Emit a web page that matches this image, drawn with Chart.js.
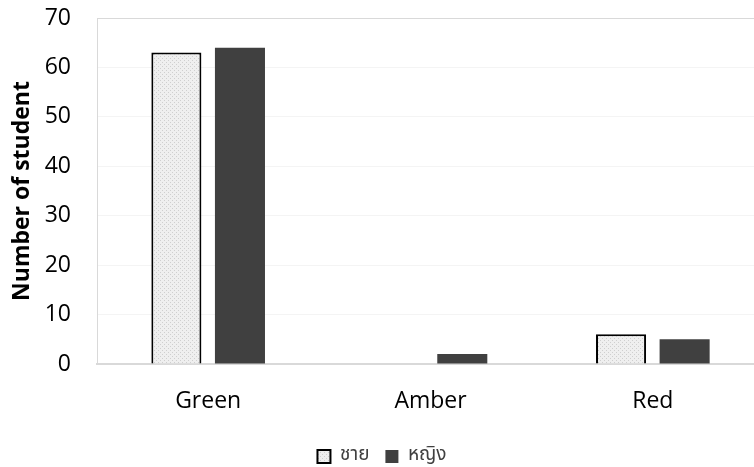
<!DOCTYPE html>
<html>
<head>
<meta charset="utf-8">
<script src="https://cdn.jsdelivr.net/npm/chart.js@4"></script>
<style>
  html, body { margin: 0; padding: 0; background: #fff; }
  #wrap { width: 754px; height: 467px; overflow: hidden; position: relative; }
  #c { display: block; }
</style>
</head>
<body>
<div id="wrap"><canvas id="c" width="764" height="467"></canvas></div>
<script>
const categories = ['Green', 'Amber', 'Red'];
const seriesNames = ['ชาย', 'หญิง'];
const maleValues = [63, 0, 6];
const femaleValues = [64, 2, 5];
const yTicks = [0, 10, 20, 30, 40, 50, 60, 70];
const yTitle = 'Number of student';

function makePattern() {
  const p = document.createElement('canvas');
  p.width = 4; p.height = 4;
  const g = p.getContext('2d');
  g.fillStyle = '#efefef';
  g.fillRect(0, 0, 4, 4);
  g.fillStyle = '#cfcfcf';
  g.fillRect(0, 0, 1, 1);
  g.fillRect(2, 2, 1, 1);
  return g.createPattern(p, 'repeat');
}
const ctx = document.getElementById('c').getContext('2d');
const pattern = makePattern();

new Chart(ctx, {
  type: 'bar',
  data: {
    labels: categories,
    datasets: [
      {
        label: seriesNames[0],
        data: maleValues,
        backgroundColor: pattern,
        borderColor: '#000000',
        borderWidth: 2,
        categoryPercentage: 0.572,
        barPercentage: 0.787
      },
      {
        label: seriesNames[1],
        data: femaleValues,
        backgroundColor: '#404040',
        borderColor: '#404040',
        borderWidth: 0,
        categoryPercentage: 0.572,
        barPercentage: 0.787
      }
    ]
  },
  options: {
    responsive: false,
    animation: false,
    devicePixelRatio: 1,
    layout: { padding: { top: 18, left: 0, right: 0, bottom: -9 } },
    plugins: {
      tooltip: { enabled: false },
      legend: {
        position: 'bottom',
        labels: {
          boxWidth: 13,
          boxHeight: 13,
          padding: 16,
          color: '#404040',
          font: { family: "'Noto Sans Thai', 'Noto Sans', 'Open Sans', sans-serif", size: 19 }
        }
      }
    },
    scales: {
      x: {
        grid: { display: false, drawTicks: false },
        border: { display: true, color: '#d9d9d9', width: 2 },
        ticks: {
          color: '#000000',
          padding: 24,
          font: { family: "'Open Sans', sans-serif", size: 23 }
        },
        afterFit: (s) => { s.height = 67; }
      },
      y: {
        min: 0,
        max: 70,
        afterBuildTicks: (s) => { s.ticks = yTicks.map(v => ({ value: v })); },
        grid: {
          drawTicks: false,
          color: (c) => (c.tick && c.tick.value === 70 ? '#d9d9d9' : '#f4f4f4'),
          lineWidth: 1
        },
        border: { display: true, color: '#d9d9d9', width: 1 },
        ticks: {
          color: '#000000',
          padding: 26,
          font: { family: "'Open Sans', sans-serif", size: 23 }
        },
        title: {
          display: true,
          text: yTitle,
          color: '#000000',
          padding: { top: 9, bottom: 0 },
          font: { family: "'Open Sans', sans-serif", size: 23, weight: 'bold' }
        },
        afterFit: (s) => { s.width = 97; s.paddingTop = 0; s.paddingBottom = 0; }
      }
    }
  }
});
</script>
</body>
</html>
